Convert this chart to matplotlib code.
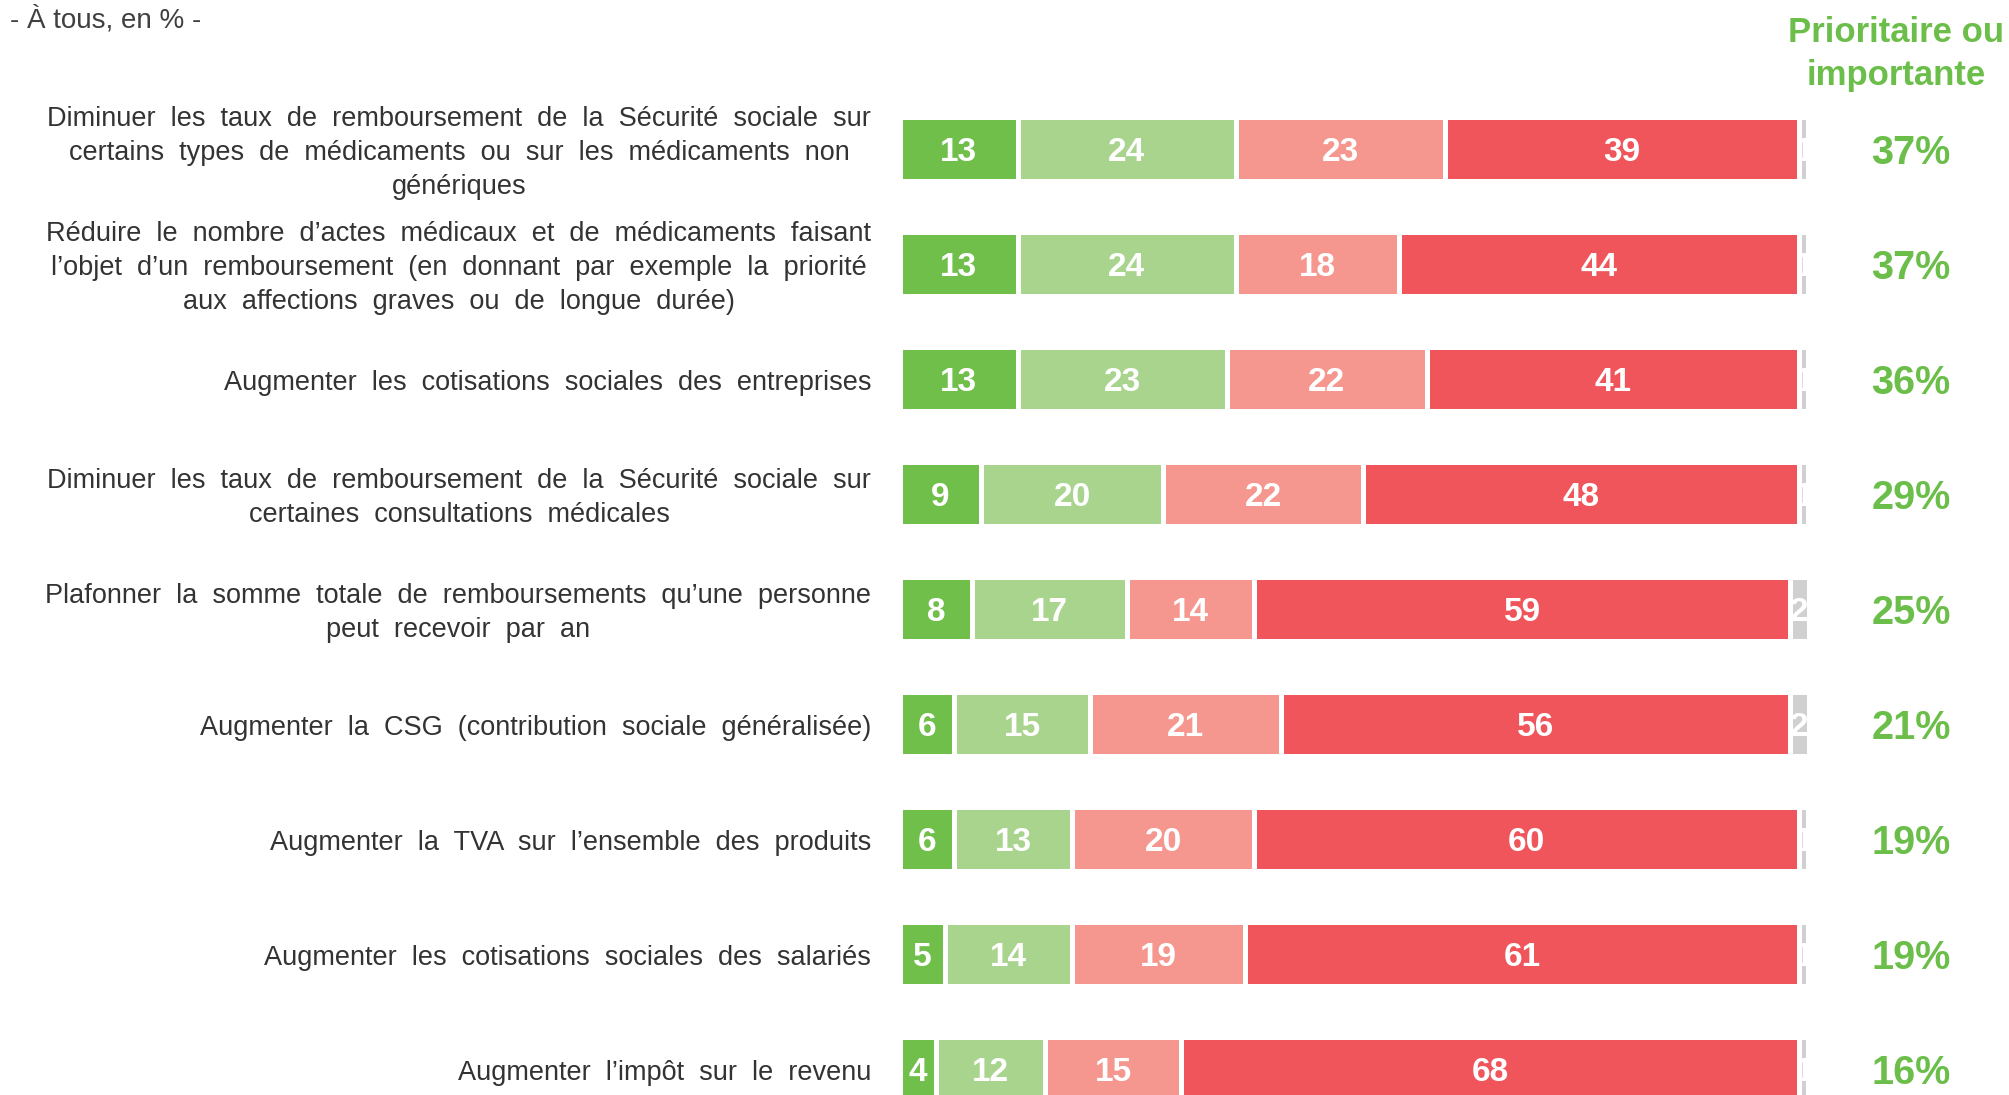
import matplotlib
matplotlib.use("Agg")
import matplotlib.pyplot as plt
import numpy as np

plt.rcParams['font.family'] = ['Liberation Sans', 'DejaVu Sans']

# libellés des mesures
labels = [
    "Diminuer les taux de remboursement de la Sécurité sociale sur\ncertains types de médicaments ou sur les médicaments non\ngénériques",
    "Réduire le nombre d’actes médicaux et de médicaments faisant\nl’objet d’un remboursement (en donnant par exemple la priorité\naux affections graves ou de longue durée)",
    "Augmenter les cotisations sociales des entreprises",
    "Diminuer les taux de remboursement de la Sécurité sociale sur\ncertaines consultations médicales",
    "Plafonner la somme totale de remboursements qu’une personne\npeut recevoir par an",
    "Augmenter la CSG (contribution sociale généralisée)",
    "Augmenter la TVA sur l’ensemble des produits",
    "Augmenter les cotisations sociales des salariés",
    "Augmenter l’impôt sur le revenu",
]

# valeurs (en %)
prioritaire = [13, 13, 13, 9, 8, 6, 6, 5, 4]
importante = [24, 24, 23, 20, 17, 15, 13, 14, 12]
secondaire = [23, 18, 22, 22, 14, 21, 20, 19, 15]
pas_souhaitable = [39, 44, 41, 48, 59, 56, 60, 61, 68]
nsp = [1, 1, 1, 1, 2, 2, 1, 1, 1]
total_prio = [37, 37, 36, 29, 25, 21, 19, 19, 16]

series = [prioritaire, importante, secondaire, pas_souhaitable, nsp]
colors = ['#70BF4B', '#A9D48E', '#F5978F', '#F0555B', '#D0D0D0']

W, H = 2009, 1095
fig = plt.figure(figsize=(W / 100, H / 100), dpi=100)

x0 = 899.5
px_unit = 9.09
ax = fig.add_axes([x0 / W, 0, 100 * px_unit / W, 1])
ax.set_xlim(0, 100)
# centre de la première barre à 149 px du haut, pas de 115 px
ax.set_ylim((H - 149) / 115, -149 / 115)
ax.axis('off')

dy = 0.033  # petit décalage vertical des textes

y = np.arange(len(labels))
left = np.zeros(len(labels))
for vals, col in zip(series, colors):
    vals = np.array(vals, dtype=float)
    ax.barh(y, vals, left=left, height=0.56, color=col,
            edgecolor='white', linewidth=3.6)
    for yi, l, v in zip(y, left, vals):
        ax.text(l + v / 2, yi + dy, f"{int(v)}", ha='center', va='center',
                color='white', fontsize=24, fontweight='bold')
    left += vals

# le texte d'origine a des espaces élargis
lab_x = (871 - x0) / px_unit
for yi, lab in zip(y, labels):
    ax.text(lab_x, yi + dy, lab.replace(' ', '  '), ha='right', va='center',
            multialignment='center', fontsize=19.5, color='#333333',
            linespacing=1.41, clip_on=False)

green = '#6CBE4A'
for yi, t in zip(y, total_prio):
    ax.text((1911 - x0) / px_unit, yi + dy, f"{t}%", ha='center', va='center',
            color=green, fontsize=28.5, fontweight='bold', clip_on=False)

fig.text(1896 / W, 1 - 54 / H, "Prioritaire ou\nimportante", ha='center', va='center',
         color=green, fontsize=25, fontweight='bold', linespacing=1.4)
fig.text(10 / W, 1 - 20 / H, "- À tous, en % -", ha='left', va='center',
         color='#404040', fontsize=20)

fig.savefig('out.png', dpi=100)
